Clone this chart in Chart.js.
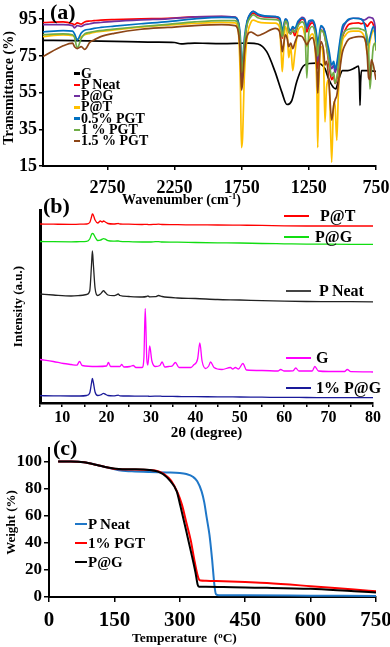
<!DOCTYPE html>
<html lang="en">
<head>
<meta charset="UTF-8">
<title>FTIR, XRD and TGA</title>
<script src="https://cdn.jsdelivr.net/npm/chart.js"></script>
<style>
  body { margin: 0; width: 390px; height: 647px; position: relative; overflow: hidden; background: #fff;
         font-family: "Liberation Serif", "Times New Roman", serif; font-weight: bold; color: #000; }
  canvas { position: absolute; left: 0; }
  #chartA { top: 0; }
  #chartB { top: 205px; }
  #chartC { top: 443px; }
  .panel { position: absolute; font-size: 22px; line-height: 1; }
  .xtitle { position: absolute; font-size: 14px; line-height: 14px; white-space: nowrap; }
  .xtitle sup { font-size: 0.65em; vertical-align: 0.5em; line-height: 0; }
  .row { position: absolute; display: flex; align-items: center; white-space: nowrap; line-height: 1; }
  .row span { display: inline-block; }
</style>
</head>
<body>
<canvas id="chartA" width="390" height="205"></canvas>
<canvas id="chartB" width="390" height="238"></canvas>
<canvas id="chartC" width="390" height="204"></canvas>

<div class="panel" style="left:50px; top:1px;">(a)</div>
<div class="panel" style="left:43px; top:195px;">(b)</div>
<div class="panel" style="left:53px; top:437px;">(c)</div>
<div class="xtitle" style="left:122px; top:193px;">Wavenumber (cm<sup>-1</sup>)</div>
<div class="xtitle" style="left:132px; top:631px; font-size:13.5px;">Temperature&nbsp; (<sup>o</sup>C)</div>

<script>
// ---------- (a) FTIR ----------
const wnTicks = [750, 1250, 1750, 2250, 2750];
const tTicks = [15, 35, 55, 75, 95];

// shared wavenumber grid for the polymer samples
const wnP = [3230, 3080, 3010, 2995, 2975, 2945, 2920, 2880, 2850, 2800,
             2700, 2500, 2300, 2100, 1900, 1800, 1775, 1760, 1752, 1744,
             1730, 1710, 1680, 1664, 1630, 1580, 1500, 1470, 1455, 1448,
             1440, 1425, 1410, 1400, 1385, 1370, 1355, 1330, 1300, 1280,
             1265, 1250, 1225, 1205, 1190, 1184, 1175, 1160, 1140, 1130,
             1118, 1100, 1080, 1065, 1055, 1042, 1030, 1015, 1000, 980,
             955, 920, 880, 860, 840, 825, 815, 805, 795, 785,
             770, 755, 750];
const tPNeat = [93.2, 93.5, 92.5, 92.0, 93.0, 92.3, 93.5, 94.0, 94.2, 94.5,
                94.8, 95.2, 95.5, 96.2, 96.4, 96.0, 93, 80, 62, 64,
                80, 93, 97.5, 98.3, 97, 96.2, 96, 95, 90, 84.6,
                88, 94, 93, 88, 87, 89, 86, 92, 95, 94,
                88, 91, 93, 90, 80, 68, 78, 89, 88, 85,
                80, 70, 62, 64, 60, 62, 68, 78, 85, 89,
                92, 92.8, 93, 92.5, 93, 92, 91, 92, 93, 93.5,
                92, 88, 84];
const tPG = [92.0, 92.0, 91.5, 90.3, 91.5, 91.0, 92.0, 92.5, 93.0, 93.2,
             93.8, 94.6, 95.2, 96.2, 96.5, 96.2, 93, 80, 61, 63,
             80, 93, 98.5, 99.2, 97.5, 96.5, 96.4, 95.5, 90, 85.5,
             89, 95, 93.5, 89, 87.5, 90, 88, 93, 96, 95,
             90, 92.5, 94, 91, 82, 72, 80, 91, 90, 87,
             82, 74, 68, 70, 66, 69, 74, 83, 89, 92.5,
             94.5, 95.5, 95.5, 95, 94.5, 95, 95.5, 96, 96, 95.8,
             95, 90, 85];
const tPT = [85.5, 86.5, 86, 85.5, 84, 85.5, 86.5, 87.3, 87.8, 88.3,
             89.2, 90.7, 91.8, 92.7, 93.3, 93, 88, 60, 25, 30,
             65, 85, 93.5, 94.5, 93.5, 93, 92.8, 91, 75, 66.4,
             75, 91, 86, 74, 80, 67, 76, 89, 91, 86,
             80, 84, 87, 80, 55, 25, 60, 80, 70, 39,
             58, 62, 17, 50, 48, 29, 55, 72, 83, 86,
             88, 88.5, 88.5, 88, 86, 82, 76, 78, 83, 86,
             89, 84, 78];
const tPGT05 = [88, 88.8, 88.5, 87, 83.7, 87.5, 89, 89.5, 90, 90.5,
                91.2, 92.5, 93.7, 95.2, 96, 95.8, 93.5, 85, 70, 72,
                85, 94, 98.5, 99.3, 97.8, 96.8, 96.4, 95.8, 92, 88,
                90.5, 95, 94, 90, 89, 91, 90, 94, 95.5, 94.5,
                91, 94, 94.5, 92, 85, 80, 85, 91.5, 90, 88,
                84, 78, 70, 72, 68, 71, 77, 85, 91, 93,
                95, 95.5, 95.3, 95, 93, 88, 81, 82, 85, 88,
                91, 86, 82];
const tPGT1 = [86.6, 87, 86.5, 85, 79.3, 84.5, 87, 87.8, 88.3, 88.8,
               89.6, 91, 92.2, 93.5, 94.2, 94.2, 92, 82, 66, 68,
               82, 92, 96.5, 97.3, 95.8, 95, 94.8, 94, 89, 85.5,
               88, 94, 92.5, 88, 87, 89, 88, 91.5, 93.5, 91,
               63, 88, 91, 88, 80, 75, 81, 89, 87.5, 85,
               80, 72, 64, 66, 60, 63, 70, 80, 86, 88.5,
               89.5, 90, 90, 89.5, 89, 88, 85, 78, 57, 66,
               80, 82, 78];
const tPGT15 = [74.6, 80.5, 82, 80, 79, 80, 78.5, 82.5, 83.7, 85.5,
                87.3, 89.5, 90.5, 91.5, 92, 91.5, 88, 75, 56.4, 60,
                76, 86, 88, 87.5, 86, 87.5, 90, 88.5, 82, 77.3,
                80, 86.5, 84, 80, 82, 79, 82, 86, 85.5, 83,
                81, 83, 85, 80, 68, 54.7, 68, 82.8, 78, 70,
                72, 60, 40, 48, 51, 53.5, 60, 70, 77, 81,
                84, 85, 85.5, 85.5, 85, 82, 75, 63, 62, 72.8,
                70, 64, 62];

// graphene has its own grid
const wnG = [3230, 3000, 2800, 2600, 2400, 2250, 2200, 2150, 2100, 2000,
             1900, 1800, 1700, 1629, 1564, 1502, 1452, 1413, 1378, 1340,
             1303, 1279, 1200, 1160, 1130, 1100, 1070, 1050, 1035, 1015,
             1000, 960, 920, 895, 880, 873, 869, 865, 858, 840,
             800, 750];
const tG = [83.5, 83.3, 83.0, 82.8, 82.5, 82.3, 81.5, 81.8, 82.0, 81.8,
            81.7, 81.8, 82.0, 81.5, 77.3, 66.4, 55.4, 48.5, 50.5, 61,
            68.2, 70.2, 71, 70.5, 68, 62, 58, 57, 60, 65,
            67, 67, 68, 69, 69.5, 62, 48, 60, 67, 67,
            67, 66.5];

const ftirNames = ['G', 'P Neat', 'P@G', 'P@T', '0.5% PGT', '1 % PGT', '1.5 % PGT'];
const ftirColors = ['#000000', '#ff0000', '#7030a0', '#ffc000', '#0070c0', '#70ad47', '#8c4516'];
const ftirX = [wnG, wnP, wnP, wnP, wnP, wnP, wnP];
const ftirY = [tG, tPNeat, tPG, tPT, tPGT05, tPGT1, tPGT15];

// ---------- (b) XRD ----------
const xrdTicks = [5, 10, 15, 20, 25, 30, 35, 40, 45, 50, 55, 60, 65, 70, 75, 80];
const angP = [5, 8, 12, 14, 15.5, 16.2, 16.6, 16.8, 17.0, 17.4,
              18.0, 18.6, 19.0, 19.3, 19.7, 20.3, 21.5, 22.3, 22.6, 23.0,
              25, 28, 29.0, 29.3, 29.7, 31, 31.7, 32.5, 36, 40,
              45, 50, 55, 60, 65, 70, 75, 80];
const xPT = [179, 178.8, 178.6, 178.8, 179, 180.5, 186, 189, 188, 183,
             180, 182, 181, 182, 181, 179.5, 179, 179.3, 179.5, 179,
             178.8, 178.5, 178.6, 178.5, 178.4, 178.7, 178.8, 178.5, 178.3, 178.1,
             178, 177.8, 177.6, 177.1, 177, 177, 177, 177];
const xPG = [161.5, 161.3, 161.2, 161.3, 161.6, 164, 168.5, 169.7, 169.3, 166,
             162.5, 162.8, 163.8, 164.3, 163.8, 162.3, 161.8, 162, 162, 161.7,
             161.3, 161, 161, 161, 161, 161.3, 161.4, 161, 160.8, 160.5,
             160.2, 160, 159.5, 159.2, 158.9, 158.8, 158.7, 158.6];
const xPNeat = [109, 108, 107, 107.5, 108.5, 112, 138, 152, 140, 115,
                107.5, 109, 111, 112.3, 110.5, 108, 107.3, 108.3, 109, 107.5,
                106.5, 106, 106.5, 107, 106.2, 106.3, 107.5, 106.5, 105, 104.5,
                103.5, 103, 102.3, 101.8, 101.5, 101.4, 101.3, 101.2];
const x1PG = [7.3, 7.2, 7, 7, 7.5, 10, 20, 24.7, 21, 11,
              7.5, 8, 9, 9.6, 8.8, 7.5, 7.2, 7.6, 7.8, 7.2,
              7, 6.8, 6.8, 6.8, 6.7, 6.8, 6.9, 6.7, 6.5, 6.3,
              6.2, 6, 5.8, 5.6, 5.5, 5.4, 5.3, 5.3];
const angG = [5, 8, 10.3, 12, 13.3, 13.9, 14.5, 17.8, 20, 20.4,
              20.9, 23, 23.4, 23.9, 25.3, 26, 26.6, 28, 28.4, 28.7,
              29.05, 29.3, 29.7, 30.2, 31, 32, 32.5, 33.1, 34, 34.7,
              35.5, 36.3, 39, 39.6, 40.5, 41, 41.5, 42.3, 43, 43.4,
              44.2, 46, 47.9, 48.4, 49, 49.7, 50.7, 51.5, 55, 58.6,
              59.2, 60, 62, 62.6, 63.3, 66.3, 66.9, 67.7, 70, 73.6,
              74.2, 75, 78, 80];
const xG = [43.5, 41.5, 39.5, 38.5, 37.8, 41.5, 37.5, 36.5, 37, 40.5,
            36.5, 36.5, 38.5, 36, 36.5, 37.5, 35.5, 35.5, 45, 94.5,
            44, 38, 57, 42, 36.5, 37.5, 41, 36, 36.5, 36.8,
            40.5, 35.5, 35.5, 38, 44, 60, 42, 34.5, 37, 41,
            35.5, 33.5, 35.5, 34, 35.5, 34, 39.5, 33, 32.5, 32,
            33.5, 32, 32.2, 35, 32, 32, 36.5, 32, 31.5, 31.5,
            33.5, 31.3, 31.2, 31];

const xrdNames = ['P@T', 'P@G', 'P Neat', 'G', '1% P@G'];
const xrdColors = ['#ff0000', '#11dd11', '#222222', '#ff00ff', '#1a1a9a'];
const xrdX = [angP, angP, angP, angG, angP];
const xrdY = [xPT, xPG, xPNeat, xG, x1PG];

// ---------- (c) TGA ----------
const wTicks = [0, 20, 40, 60, 80, 100];
const tempNeat = [21, 50, 80, 110, 135, 160, 190, 230, 270, 300, 315, 330, 340, 350, 356, 362, 368, 374, 379, 383, 390, 450, 600, 750];
const wNeat    = [100, 100, 99.5, 97.5, 95.5, 93.5, 92.8, 92.3, 92, 91.6, 90.8, 88.8, 85.5, 78, 70, 58, 46, 28, 10, 2, 1.3, 1.2, 1, 0.8];
const tempPGT = [21, 50, 80, 110, 135, 160, 190, 230, 250, 265, 280, 295, 305, 315, 325, 333, 340, 345, 348, 360, 400, 450, 500, 600, 700, 750];
const wPGT    = [100, 100, 99.5, 97.5, 95.6, 94.3, 94.2, 93.8, 92.8, 90.5, 86, 77, 68, 55, 42, 28, 17, 12.5, 12.2, 12, 11.6, 11, 10.3, 8, 5.5, 4.3];
const tempPG = [21, 50, 80, 110, 135, 160, 190, 230, 250, 262, 278, 293, 301, 316, 328, 336, 341, 344, 360, 400, 450, 500, 600, 700, 750];
const wPG    = [100, 100, 99.5, 97.5, 95.6, 94.5, 94.3, 93.8, 92.6, 90.6, 85.7, 78, 67.7, 47, 30, 18, 9, 7.5, 7.5, 7.3, 7.0, 6.8, 6.0, 4.2, 3.4];

const tgaNames = ['P Neat', '1% PGT', 'P@G'];
const tgaColors = ['#1f77c8', '#ff0000', '#000000'];
const tgaX = [tempNeat, tempPGT, tempPG];
const tgaY = [wNeat, wPGT, wPG];

// ---------- shared setup ----------
const SERIF = '"Liberation Serif", "Times New Roman", serif';
Chart.defaults.font.family = SERIF;
Chart.defaults.font.weight = 'bold';
Chart.defaults.color = '#000';

function pts(xs, ys) {
    return xs.map((x, i) => ({ x: x, y: ys[i] }));
}

function axis(extra) {
    return Object.assign({
        type: 'linear',
        grid: { drawOnChartArea: false, color: '#000', tickColor: '#000', tickLength: 4, lineWidth: 1.5 },
        border: { color: '#000', width: 2 }
    }, extra);
}

function baseOptions(padding, scales) {
    return {
        responsive: false,
        animation: false,
        layout: { padding: padding },
        plugins: { legend: { display: false }, tooltip: { enabled: false } },
        elements: { point: { radius: 0 }, line: { cubicInterpolationMode: 'monotone' } },
        scales: scales
    };
}

const plain = v => String(v);

// (a)
new Chart(document.getElementById('chartA'), {
    type: 'line',
    data: {
        datasets: ftirNames.map((name, i) => ({
            label: name,
            data: pts(ftirX[i], ftirY[i]),
            borderColor: ftirColors[i],
            borderWidth: 1.7,
            order: ftirNames.length - 1 - i
        }))
    },
    options: baseOptions({ top: 10, right: 14, left: 0, bottom: 0 }, {
        x: axis({
            reverse: true, min: 750, max: 3230,
            afterBuildTicks: s => { s.ticks = wnTicks.map(v => ({ value: v })); },
            afterFit: s => { s.height = 39; s.paddingLeft = 0; s.paddingRight = 0; },
            ticks: { font: { size: 18, weight: 'bold' }, padding: 8, maxRotation: 0, autoSkip: false, callback: plain }
        }),
        y: axis({
            min: 15, max: 100,
            afterBuildTicks: s => { s.ticks = tTicks.map(v => ({ value: v })); },
            afterFit: s => { s.width = 43; s.paddingTop = 0; s.paddingBottom = 0; },
            ticks: { font: { size: 18, weight: 'bold' }, padding: 2, callback: plain },
            title: { display: true, text: 'Transmittance (%)', font: { size: 14, weight: 'bold' }, padding: { top: 1, bottom: 0 } }
        })
    })
});

// (b)
new Chart(document.getElementById('chartB'), {
    type: 'line',
    data: {
        datasets: xrdNames.map((name, i) => ({
            label: name,
            data: pts(xrdX[i], xrdY[i]),
            borderColor: xrdColors[i],
            borderWidth: 1.3
        }))
    },
    options: baseOptions({ top: 5, right: 17, left: 0, bottom: 0 }, {
        x: axis({
            min: 5, max: 80,
            afterBuildTicks: s => { s.ticks = xrdTicks.map(v => ({ value: v })); },
            afterFit: s => { s.height = 40; s.paddingLeft = 0; s.paddingRight = 0; },
            border: { color: '#000', width: 2.5 },
            ticks: { font: { size: 16, weight: 'bold' }, padding: 1, maxRotation: 0, autoSkip: false,
                     callback: v => (v % 10 === 0 ? String(v) : '') },
            title: { display: true, text: '2θ (degree)', font: { size: 15, weight: 'bold' }, padding: { top: 0, bottom: 1 } }
        }),
        y: axis({
            min: 0, max: 193,
            afterFit: s => { s.width = 40; s.paddingTop = 0; s.paddingBottom = 0; },
            grid: { display: false },
            border: { color: '#000', width: 3 },
            ticks: { display: false },
            title: { display: true, text: 'Intensity (a.u.)', font: { size: 13, weight: 'bold' }, padding: { top: 11, bottom: 0 } }
        })
    })
});

// (c)
new Chart(document.getElementById('chartC'), {
    type: 'line',
    data: {
        datasets: tgaNames.map((name, i) => ({
            label: name,
            data: pts(tgaX[i], tgaY[i]),
            borderColor: tgaColors[i],
            borderWidth: 2,
            order: tgaNames.length - 1 - i
        }))
    },
    options: baseOptions({ top: 5, right: 14, left: 0, bottom: 0 }, {
        x: axis({
            min: 0, max: 750,
            ticks: { stepSize: 150, font: { size: 21, weight: 'bold' }, padding: 6, maxRotation: 0, autoSkip: false, callback: plain },
            grid: { drawOnChartArea: false, color: '#000', tickColor: '#000', tickLength: 5, lineWidth: 1.5 },
            afterFit: s => { s.height = 50; s.paddingLeft = 0; s.paddingRight = 0; }
        }),
        y: axis({
            min: 0, max: 110,
            afterBuildTicks: s => { s.ticks = wTicks.map(v => ({ value: v })); },
            afterFit: s => { s.width = 49; s.paddingTop = 0; s.paddingBottom = 0; },
            grid: { drawOnChartArea: false, color: '#000', tickColor: '#000', tickLength: 5, lineWidth: 1.5 },
            ticks: { font: { size: 17, weight: 'bold' }, padding: 2, callback: plain },
            title: { display: true, text: 'Weight (%)', font: { size: 13, weight: 'bold' }, padding: { top: 4, bottom: 0 } }
        })
    })
});

// ---------- legends (HTML) ----------
function legendRow(x, yMid, lineW, lineH, color, text, gap, size) {
    const row = document.createElement('div');
    row.className = 'row';
    row.style.left = x + 'px';
    row.style.top = (yMid - size / 2) + 'px';
    row.style.height = size + 'px';
    row.style.fontSize = size + 'px';
    const line = document.createElement('span');
    line.style.width = lineW + 'px';
    line.style.height = lineH + 'px';
    line.style.background = color;
    const label = document.createElement('span');
    label.style.marginLeft = gap + 'px';
    label.textContent = text;
    row.appendChild(line);
    row.appendChild(label);
    document.body.appendChild(row);
}

ftirNames.forEach((n, i) => legendRow(74, 73.5 + i * 11.25, 6, 2.5, ftirColors[i], n, 1, 14));

const xrdLegendY = [216, 236.7, 290.5, 358.3, 387.7];
const xrdLegendX = [284, 284, 286, 286, 286];
const xrdGap = [11, 6, 8, 5, 5];
xrdNames.forEach((n, i) => legendRow(xrdLegendX[i], xrdLegendY[i], 25, 2, i === 2 ? '#444' : xrdColors[i], n, xrdGap[i], 16));

tgaNames.forEach((n, i) => legendRow(75, 524 + i * 19, 12, 2.5, tgaColors[i], n, 1, 15));
</script>
</body>
</html>
